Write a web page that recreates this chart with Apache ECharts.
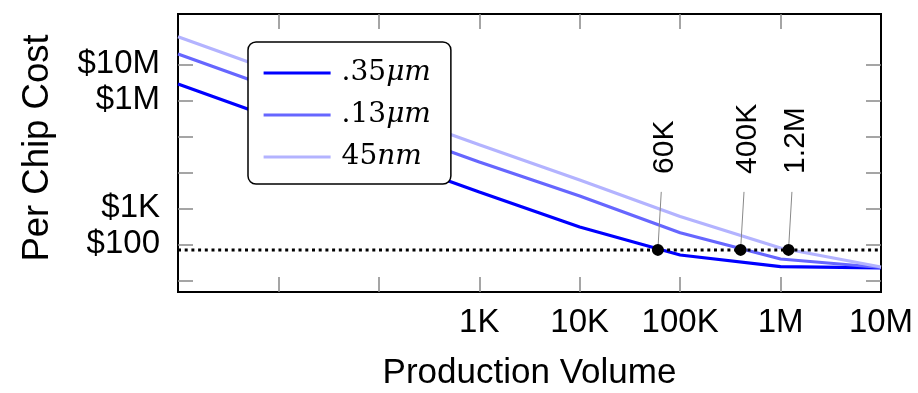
<!DOCTYPE html>
<html><head><meta charset="utf-8">
<script src="https://cdn.jsdelivr.net/npm/echarts@6/dist/echarts.min.js"></script>
<style>html,body{margin:0;padding:0;background:#fff}#c{width:918px;height:393px}</style>
</head><body><div id="c"></div>
<script>
const volumes = [1, 10, 100, 1000, 10000, 100000, 1000000, 10000000];
const cost035 = [2.84e6, 2.84e5, 2.84e4, 2840, 302, 50.5, 24, 22];
const cost013 = [1.93e7, 1.93e6, 1.93e5, 1.93e4, 2200, 210, 39, 22.7];
const cost45 = [5.84e7, 5.84e6, 5.84e5, 5.84e4, 6100, 592, 79, 23.4];
const seriesNames = ['.35μm', '.13μm', '45nm'];
const seriesColors = ['#0000ff', '#6666ff', '#b3b3ff'];
const thresholdCost = 70;
const breakEvenVolumes = [60000, 400000, 1200000];
const breakEvenLabels = ['60K', '400K', '1.2M'];
const xTickValues = [10, 100, 1000, 10000, 100000, 1000000];
const xLabelValues = [1000, 10000, 100000, 1000000, 10000000];
const xLabelTexts = ['1K', '10K', '100K', '1M', '10M'];
const yTickValues = [10, 100, 1000, 10000, 100000, 1000000, 10000000];
const yLabelValues = [100, 1000, 1000000, 10000000];
const yLabelTexts = ['$100', '$1K', '$1M', '$10M'];

function fmt(vals, texts) {
  return function (v) {
    const i = vals.findIndex(t => Math.abs(Math.log10(t) - Math.log10(v)) < 1e-6);
    return i >= 0 ? texts[i] : '';
  };
}
const SANS = 'Liberation Sans';
const tickStyle = { inside: true, length: 15, lineStyle: { color: '#888', width: 1.5 } };

const chart = echarts.init(document.getElementById('c'));
const costs = [cost035, cost013, cost45];
const lineSeries = seriesNames.map((n, k) => ({
  type: 'line', name: n, symbol: 'none', z: 3,
  data: volumes.map((v, i) => [v, costs[k][i]]),
  lineStyle: { width: 3.2, color: seriesColors[k] },
  itemStyle: { color: seriesColors[k] }
}));

chart.setOption({
  animation: false,
  grid: { left: 178, right: 37, top: 14, bottom: 101, show: true, borderColor: '#000', borderWidth: 2,
    outerBoundsMode: 'none', containLabel: false },
  xAxis: [
    { type: 'log', min: 1, max: 1e7, position: 'bottom',
      axisLine: { show: false }, splitLine: { show: false },
      axisTick: Object.assign({ customValues: xTickValues }, tickStyle),
      axisLabel: { customValues: xLabelValues, formatter: fmt(xLabelValues, xLabelTexts),
        fontSize: 33, fontFamily: SANS, color: '#000', margin: 14 },
      name: 'Production Volume', nameLocation: 'middle', nameGap: 64,
      nameTextStyle: { fontSize: 35, fontFamily: SANS, color: '#000' } },
    { type: 'log', min: 1, max: 1e7, position: 'top',
      axisLine: { show: false }, splitLine: { show: false },
      axisTick: Object.assign({ customValues: xTickValues }, tickStyle),
      axisLabel: { show: false } }
  ],
  yAxis: [
    { type: 'log', min: 4.73, max: 2.5e8, position: 'left',
      axisLine: { show: false }, splitLine: { show: false },
      axisTick: Object.assign({ customValues: yTickValues }, tickStyle),
      axisLabel: { customValues: yLabelValues, formatter: fmt(yLabelValues, yLabelTexts),
        fontSize: 33, fontFamily: SANS, color: '#000', margin: 18 },
      name: 'Per Chip Cost', nameLocation: 'middle', nameGap: 122,
      nameTextStyle: { fontSize: 36.5, fontFamily: SANS, color: '#000', padding: [0, 0, 0, 10] } },
    { type: 'log', min: 4.73, max: 2.5e8, position: 'right',
      axisLine: { show: false }, splitLine: { show: false },
      axisTick: Object.assign({ customValues: yTickValues }, tickStyle),
      axisLabel: { show: false } }
  ],
  legend: {
    orient: 'vertical', left: 248, top: 42, data: seriesNames,
    itemWidth: 67, itemHeight: 28, itemGap: 14,
    padding: [17, 20, 13, 14],
    backgroundColor: '#fff', borderColor: '#000', borderWidth: 1.5, borderRadius: 8,
    itemStyle: { color: 'transparent', borderWidth: 0, opacity: 0 },
    lineStyle: { width: 3.2 },
    formatter: n => n.replace(/^([.\d]+)(.*)$/, '{d|$1}{i|$2}'),
    textStyle: {
      padding: [0, 0, 0, 6],
      rich: {
        d: { fontFamily: 'DejaVu Serif', fontSize: 28, color: '#000' },
        i: { fontFamily: 'DejaVu Serif', fontStyle: 'italic', fontSize: 28, color: '#000' }
      }
    }
  },
  series: lineSeries.concat([
    { type: 'line', name: 'threshold', symbol: 'none', silent: true, z: 4,
      data: [[1, thresholdCost], [1e7, thresholdCost]],
      lineStyle: { type: [3, 3.7], width: 3, color: '#000' } },
    { type: 'custom', name: 'breakeven', z: 10, silent: true,
      data: breakEvenVolumes.map((v, i) => [v, thresholdCost, i]),
      renderItem: function (params, api) {
        const p = api.coord([api.value(0), api.value(1)]);
        const lbl = breakEvenLabels[api.value(2)];
        return { type: 'group', children: [
          { type: 'line', shape: { x1: p[0], y1: p[1], x2: p[0] + 3.4, y2: p[1] - 58 },
            style: { stroke: '#888', lineWidth: 1 } },
          { type: 'circle', shape: { cx: p[0], cy: p[1], r: 6 }, style: { fill: '#000' } },
          { type: 'text', x: p[0] + 7, y: p[1] - 76, rotation: Math.PI / 2,
            style: { text: lbl, fontSize: 30, fontFamily: SANS, fill: '#000',
              align: 'left', verticalAlign: 'middle' } }
        ] };
      } }
  ])
});
</script></body></html>
